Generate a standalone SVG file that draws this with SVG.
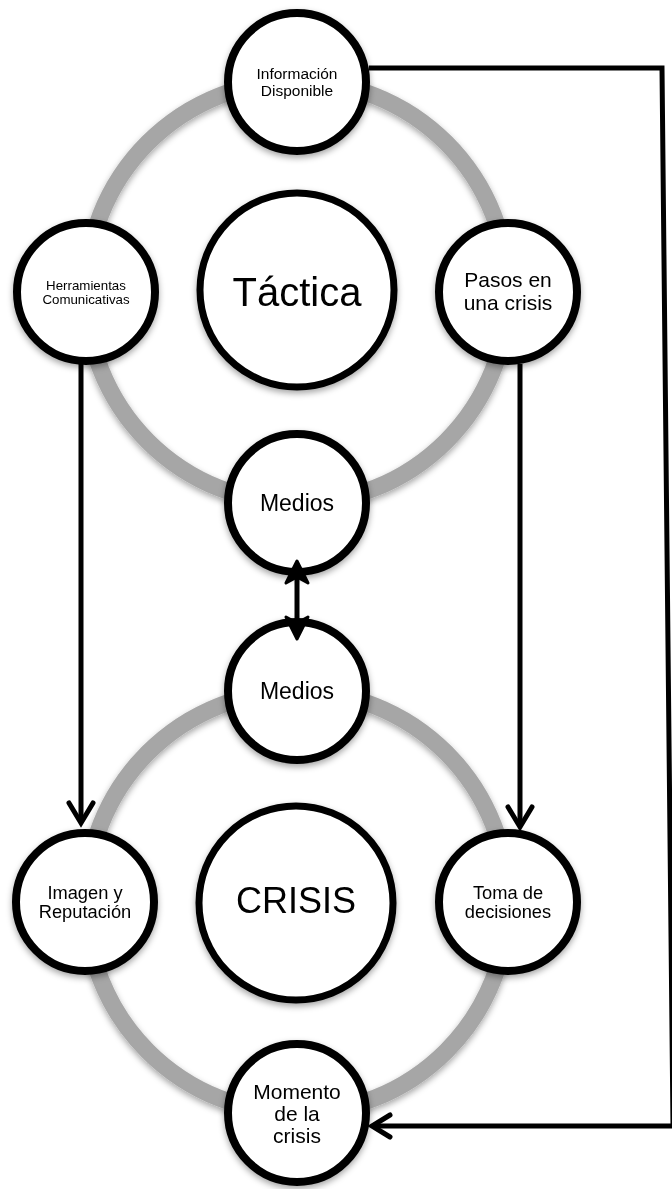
<svg xmlns="http://www.w3.org/2000/svg" width="672" height="1189" viewBox="0 0 672 1189">
<style>
.ring{fill:none;stroke:#a6a6a6;stroke-width:17}
.node{fill:#fff;stroke:#000;stroke-width:8}
.big{fill:#fff;stroke:#000;stroke-width:7}
.t{font-family:"Liberation Sans",Arial,sans-serif;fill:#000;text-anchor:middle}
.conn{fill:none;stroke:#000;stroke-width:5}
.head{fill:none;stroke:#000;stroke-width:5;stroke-linecap:round;stroke-linejoin:miter}
.stealth{fill:#000;stroke:#000;stroke-width:3;stroke-linejoin:round}
</style>
<defs>
<filter id="sh" x="-20%" y="-20%" width="140%" height="150%">
<feDropShadow dx="0" dy="3" stdDeviation="3" flood-color="#000" flood-opacity="0.35"/>
</filter>
</defs>
<rect width="672" height="1189" fill="#fff"/>
<g id="rings" filter="url(#sh)">
<circle class="ring" cx="297" cy="292" r="211"/>
<circle class="ring" cx="297" cy="902" r="211"/>
</g>
<g id="tactica" filter="url(#sh)">
<circle class="big" cx="297" cy="290" r="97"/>
<text class="t" x="297" y="306" font-size="40">Táctica</text>
</g>
<g id="crisis" filter="url(#sh)">
<circle class="big" cx="296" cy="903" r="97"/>
<text class="t" x="296" y="913" font-size="36">CRISIS</text>
</g>
<g id="informacion" filter="url(#sh)">
<circle class="node" cx="297" cy="82" r="69"/>
<text class="t" font-size="15.5"><tspan x="297" y="79">Información</tspan><tspan x="297" y="96">Disponible</tspan></text>
</g>
<g id="herramientas" filter="url(#sh)">
<circle class="node" cx="86" cy="292" r="69"/>
<text class="t" font-size="13.3"><tspan x="86" y="290">Herramientas</tspan><tspan x="86" y="304">Comunicativas</tspan></text>
</g>
<g id="pasos" filter="url(#sh)">
<circle class="node" cx="508" cy="292" r="69"/>
<text class="t" font-size="21"><tspan x="508" y="287">Pasos en</tspan><tspan x="508" y="310">una crisis</tspan></text>
</g>
<g id="medios-top" filter="url(#sh)">
<circle class="node" cx="297" cy="503" r="69"/>
<text class="t" x="297" y="511" font-size="23">Medios</text>
</g>
<g id="medios-bottom" filter="url(#sh)">
<circle class="node" cx="297" cy="691" r="69"/>
<text class="t" x="297" y="699" font-size="23">Medios</text>
</g>
<g id="imagen" filter="url(#sh)">
<circle class="node" cx="85" cy="902" r="69"/>
<text class="t" font-size="18.3"><tspan x="85" y="899">Imagen y</tspan><tspan x="85" y="918">Reputación</tspan></text>
</g>
<g id="toma" filter="url(#sh)">
<circle class="node" cx="508" cy="902" r="69"/>
<text class="t" font-size="18.3"><tspan x="508" y="899">Toma de</tspan><tspan x="508" y="918">decisiones</tspan></text>
</g>
<g id="momento" filter="url(#sh)">
<circle class="node" cx="297" cy="1113" r="69"/>
<text class="t" font-size="21"><tspan x="297" y="1099">Momento</tspan><tspan x="297" y="1121">de la</tspan><tspan x="297" y="1143">crisis</tspan></text>
</g>
<g id="connectors">
<polyline class="conn" points="369,68 662,68 673,1126 374,1126"/>
<path class="head" d="M390,1115 L372,1126 L390,1137"/>
<line class="conn" x1="81" y1="364" x2="81" y2="822"/>
<path class="head" d="M69,803 L81,823 L93,803"/>
<line class="conn" x1="520" y1="364" x2="520" y2="826"/>
<path class="head" d="M508,807 L520,827 L532,807"/>
<line class="conn" x1="297" y1="566" x2="297" y2="634"/>
<path class="stealth" d="M297,561 L308,583 L297,577 L286,583 Z"/>
<path class="stealth" d="M297,639 L308,617 L297,623 L286,617 Z"/>
</g>
</svg>
